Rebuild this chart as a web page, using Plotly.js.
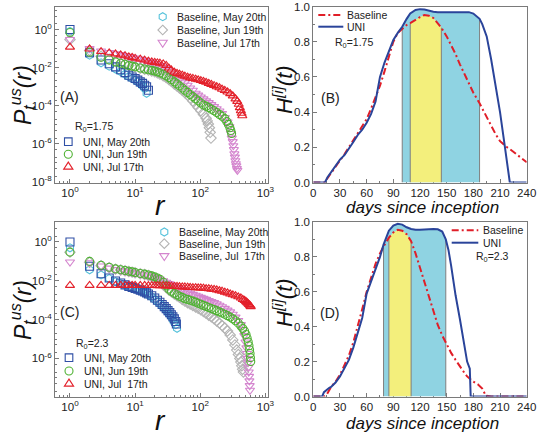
<!DOCTYPE html>
<html><head><meta charset="utf-8">
<script src="https://cdn.plot.ly/plotly-3.0.1.min.js"></script>
<style>html,body{margin:0;padding:0;background:#fff}#chart{width:539px;height:434px}</style>
</head><body><div id="chart"></div>
<script>
// ================= DATA =================
// Panel A (R0 = 1.75): rank r and probability P
const rA_uniMay = [1,2,3,4,5,6,7,8,9,10,11,12,13,14,15,16];
const pA_uniMay = [1.0,0.06,0.025,0.016,0.011,0.0078,0.0055,0.004,0.0032,0.0027,0.0022,0.0018,0.0015,0.0012,0.001,0.00065];
const rA_baseMay = [1,2,3,4,5,6,7,8,9,10,11,12,13,14,15];
const pA_baseMay = [0.8,0.045,0.018,0.012,0.0085,0.0062,0.0045,0.0034,0.0027,0.0022,0.0018,0.0014,0.0011,0.0008,0.00045];
const rA_uniJun = [1,2,3,4,5,6,7,8,9,10,12,14,16,18,20,22,24,27,30,33,36,40,44,48,53,58,64,70,77,85,93,102,112,123,135,148,163,179,197,216,238,255,270,285,295,303];
const pA_uniJun = [0.7,0.065,0.035,0.025,0.02,0.017,0.015,0.013,0.012,0.011,0.0095,0.0085,0.0078,0.0072,0.0066,0.006,0.0053,0.0045,0.0037,0.003,0.0024,0.0018,0.0014,0.0011,0.00085,0.00065,0.0005,0.00039,0.0003,0.00023,0.00018,0.00014,0.00011,0.000095,0.00008,0.000065,0.000055,0.000044,0.000035,0.000028,0.000021,0.000015,0.0000105,0.000007,0.000005,0.0000035];
const rA_baseJun = [1,2,3,4,5,6,7,8,9,10,12,14,16,18,20,22,24,27,30,33,36,40,44,48,53,58,64,70,77,85,93,102,112,123,128,133,138,142,146];
const pA_baseJun = [0.3,0.08,0.04,0.028,0.021,0.017,0.015,0.013,0.012,0.011,0.0093,0.0082,0.0074,0.0067,0.006,0.0053,0.0046,0.0037,0.003,0.0024,0.0019,0.0014,0.0011,0.00085,0.00065,0.0005,0.00036,0.00026,0.00018,0.00012,0.00008,0.000055,0.000035,0.000022,0.000016,0.000011,0.000007,0.000004,0.000002];
const rA_uniJul = [1,2,3,4,5,6,7,8,9,10,12,14,16,18,20,22,24,27,30,33,36,40,44,48,53,58,64,70,77,85,93,102,112,123,135,148,163,179,197,216,238,262,288,316,348,370,390,405,420,432,442];
const pA_uniJul = [0.12,0.095,0.07,0.06,0.053,0.047,0.042,0.037,0.034,0.031,0.028,0.025,0.022,0.02,0.019,0.018,0.017,0.0155,0.013,0.0095,0.0075,0.0058,0.005,0.0045,0.004,0.0036,0.0032,0.0029,0.0027,0.0025,0.0023,0.0021,0.0019,0.0017,0.0015,0.0013,0.00115,0.001,0.00088,0.00074,0.00063,0.00053,0.00043,0.00033,0.00023,0.00017,0.00012,0.00008,0.000055,0.00004,0.00003];
const rA_baseJul = [1,2,3,4,5,6,7,8,9,10,12,14,16,18,20,22,24,27,30,33,36,40,44,48,53,58,64,70,77,85,93,102,112,123,135,148,163,179,197,216,238,262,280,295,305,315,322,328,334,340,346,352,358,365,372];
const pA_baseJul = [0.3,0.1,0.075,0.062,0.054,0.048,0.043,0.039,0.035,0.032,0.028,0.024,0.021,0.019,0.017,0.015,0.013,0.011,0.009,0.0068,0.0052,0.004,0.0031,0.0025,0.002,0.0016,0.0012,0.00085,0.00065,0.00045,0.00036,0.00029,0.00023,0.00018,0.000145,0.000115,0.00009,0.00007,0.000053,0.000039,0.000024,0.000014,0.000008,0.0000035,0.000002,0.0000013,0.0000008,0.0000005,0.0000003,0.0000002,0.00000013,0.00000009,0.00000007,0.00000005,0.00000004];

// Panel C (R0 = 2.3)
const rC_uniMay = [1,2,3,4,5,6,7,8,9,10,11,12,13,14,15,16,18,20,22,24,26,28,30,32,34,36,38,40,42,43];
const pC_uniMay = [1.0,0.056,0.023,0.014,0.0098,0.0077,0.0062,0.0052,0.0046,0.0041,0.0037,0.0033,0.003,0.0027,0.0024,0.0021,0.0017,0.0013,0.001,0.00078,0.0006,0.00047,0.00037,0.00029,0.00023,0.00018,0.00014,0.00011,0.00008,0.00006];
const rC_baseMay = [1,2,3,4,5,6,7,8,9,10,11,12,13,14,15,16,18,20,22,24,26,28,30,32,34,36,38,40,42,44];
const pC_baseMay = [0.5,0.037,0.02,0.013,0.009,0.0072,0.0058,0.0049,0.0043,0.0038,0.0034,0.003,0.0027,0.0024,0.0021,0.0019,0.0015,0.0011,0.00085,0.00065,0.0005,0.00039,0.0003,0.00023,0.00018,0.00014,0.0001,0.000075,0.000055,0.000036];
const rC_uniJun = [1,2,3,4,5,6,7,8,9,10,12,14,16,18,20,22,24,27,30,33,36,40,44,48,53,58,64,70,77,85,93,102,112,123,135,148,163,179,197,216,238,262,288,316,348,383,420,450,480,505,525,545,560,572,582,590,596];
const pC_uniJun = [0.3,0.1,0.063,0.05,0.041,0.037,0.034,0.031,0.029,0.027,0.024,0.022,0.02,0.018,0.016,0.014,0.012,0.0085,0.0055,0.0038,0.0029,0.0023,0.0019,0.0016,0.0014,0.0012,0.0011,0.001,0.0009,0.0008,0.0007,0.00062,0.00054,0.00048,0.00042,0.00037,0.00033,0.00029,0.00025,0.00022,0.00019,0.00016,0.000135,0.00011,0.000088,0.000066,0.000047,0.000035,0.000025,0.000017,0.000011,0.000007,0.0000045,0.0000028,0.0000018,0.0000011,0.0000007];
const rC_baseJun = [1,2,3,4,5,6,7,8,9,10,12,14,16,18,20,22,24,27,30,33,36,40,44,48,53,58,64,70,77,85,93,102,112,123,135,148,163,179,197,216,238,262,288,316,340,363,385,405,420,434,447,460];
const pC_baseJun = [0.3,0.09,0.06,0.047,0.04,0.036,0.033,0.03,0.028,0.026,0.023,0.021,0.019,0.016,0.013,0.011,0.0088,0.0062,0.0045,0.0034,0.0027,0.0021,0.0017,0.0014,0.0011,0.0009,0.00075,0.00063,0.00053,0.00045,0.00038,0.00032,0.00026,0.00021,0.00017,0.00014,0.00011,0.000085,0.000066,0.00005,0.000037,0.000026,0.000016,0.000009,0.000005,0.0000027,0.0000016,0.000001,0.00000065,0.00000042,0.00000028,0.0000002];
const rC_uniJul = [1,2,3,4,5,6,7,8,9,10,12,14,16,18,20,22,24,27,30,33,36,40,44,48,53,58,64,70,77,85,93,102,112,123,135,148,163,179,197,216,238,262,288,316,348,383,420,450,480,505,525,545,560,575,588,596];
const pC_uniJul = [0.0058,0.0058,0.0058,0.0058,0.0058,0.0058,0.0058,0.0058,0.0058,0.0058,0.0058,0.0058,0.0057,0.0057,0.0057,0.0056,0.0056,0.0056,0.0055,0.0054,0.0053,0.0052,0.0051,0.005,0.0049,0.0048,0.0047,0.0046,0.0045,0.0044,0.0043,0.0043,0.0042,0.004,0.0039,0.0037,0.0036,0.0034,0.0031,0.0029,0.0026,0.0024,0.0021,0.0019,0.0017,0.0015,0.0013,0.0011,0.00098,0.00085,0.00075,0.00066,0.0006,0.00055,0.0005,0.00047];
const rC_baseJul = [1,2,3,4,5,6,7,8,9,10,12,14,16,18,20,22,24,27,30,33,36,40,44,48,53,58,64,70,77,85,93,102,112,123,135,148,163,179,197,216,238,262,288,316,348,383,420,450,475,495,510,522,532,540,548,555,562,568,574,580];
const pC_baseJul = [0.093,0.085,0.058,0.045,0.038,0.034,0.031,0.029,0.027,0.025,0.022,0.02,0.018,0.016,0.015,0.013,0.012,0.01,0.0085,0.0072,0.0062,0.0052,0.0045,0.0039,0.0034,0.003,0.0026,0.0023,0.002,0.0018,0.0016,0.0014,0.00125,0.0011,0.00096,0.00085,0.00075,0.00065,0.00055,0.00046,0.00038,0.00031,0.00025,0.00019,0.000135,0.00009,0.000055,0.00003,0.000015,0.000007,0.0000035,0.0000018,0.000001,0.0000006,0.00000035,0.0000002,0.00000012,0.00000007,0.00000004,0.000000023];

// Panel B (R0 = 1.75): days since inception t and H(t)
const tB = [0,10,13,16,20,25,30,35,40,45,50,55,60,65,70,75,80,85,90,95,100,105,109,115,120,125,130,135,140,144,150,155,160,165,170,175,180,187,190,195,200,205,210,215,218,221,225,230,240];
const hB_base = [0,0,0,0.025,0.055,0.09,0.125,0.16,0.2,0.24,0.28,0.32,0.36,0.42,0.48,0.55,0.63,0.72,0.8,0.85,0.875,0.895,0.905,0.925,0.94,0.952,0.948,0.935,0.905,0.88,0.83,0.78,0.73,0.67,0.615,0.56,0.51,0.45,0.42,0.37,0.32,0.275,0.235,0.21,0.2,0.19,0.175,0.155,0.115];
const hB_uni = [0,0,0,0.03,0.06,0.1,0.13,0.155,0.19,0.23,0.27,0.3,0.34,0.39,0.46,0.6,0.68,0.75,0.81,0.85,0.885,0.93,0.96,0.98,0.985,0.983,0.975,0.97,0.968,0.968,0.97,0.97,0.97,0.97,0.97,0.968,0.96,0.93,0.9,0.83,0.7,0.56,0.4,0.22,0.12,0,0,0,0];
const winB_uni = [100,187];
const winB_base = [109,144];

// Panel D (R0 = 2.3)
const tD = [0,10,12,15,18,20,25,30,35,40,45,50,55,60,65,70,75,79,85,90,95,100,105,110,115,120,125,130,135,140,145,149,152,155,160,165,170,173,176,177,180,185,190,194,200,210,220,240];
const hD_base = [0,0,0,0.01,0.04,0.055,0.085,0.125,0.18,0.235,0.31,0.4,0.5,0.6,0.68,0.76,0.82,0.86,0.91,0.94,0.955,0.95,0.93,0.89,0.82,0.74,0.65,0.57,0.49,0.41,0.35,0.31,0.28,0.25,0.21,0.17,0.135,0.115,0.1,0.095,0.085,0.07,0.045,0.005,0,0,0,0];
const hD_uni = [0,0,0.025,0.04,0.05,0.055,0.08,0.115,0.16,0.21,0.28,0.36,0.45,0.59,0.66,0.72,0.8,0.87,0.95,0.98,0.99,0.985,0.97,0.96,0.955,0.955,0.958,0.96,0.96,0.958,0.945,0.9,0.84,0.75,0.58,0.44,0.3,0.2,0.16,0,0,0,0,0,0,0,0,0];
const winD_uni = [79,149];
const winD_base = [85,110];

// Tick labels
const logTickVals = [1,10,100,1000];
const logTickText = ['10<sup>0</sup>','10<sup>1</sup>','10<sup>2</sup>','10<sup>3</sup>'];
const pTickVals = [1,1e-2,1e-4,1e-6,1e-8];
const pTickText = ['10<sup>0</sup>','10<sup>-2</sup>','10<sup>-4</sup>','10<sup>-6</sup>','10<sup>-8</sup>'];

// ================= STYLE / LAYOUT =================
const W = 539, H = 434;
const FX = v => v / W, FY = v => 1 - v / H;
const FONT = 'Liberation Sans, Arial, sans-serif';
const AX = '#7a7a7a';
const C = {uniMay:'#2f4fa5', baseMay:'#56c2db', uniJun:'#4fb233', baseJun:'#b4b4b4', uniJul:'#e3202a', baseJul:'#d485ce',
           red:'#e01e28', blue:'#2a449a', cyan:'#8fd3e2', yellow:'#f3ef7c', edge:'#7f7f7f'};
const DASHDOT = '7px,3px,2px,3px';

function mk(r, p, sym, col, xa, ya) {
  return {type:'scatter', mode:'markers', x:r, y:p, xaxis:xa, yaxis:ya, hoverinfo:'skip', showlegend:false,
          marker:{symbol:sym + '-open', size:8, color:col, line:{width:1.1}}};
}
function ln(t, h, col, dash, xa, ya) {
  return {type:'scatter', mode:'lines', x:t, y:h, xaxis:xa, yaxis:ya, hoverinfo:'skip', showlegend:false,
          line:{color:col, width:2, dash:dash}};
}
function shade(t, h, win, fill, xa, ya) {
  const xs = [], ys = [];
  t.forEach((v, i) => { if (v >= win[0] && v <= win[1]) { xs.push(v); ys.push(h[i]); } });
  return {type:'scatter', mode:'lines', x:xs, y:ys, xaxis:xa, yaxis:ya, fill:'tozeroy', fillcolor:fill,
          line:{width:0}, hoverinfo:'skip', showlegend:false};
}
function edges(t, h, win, xa, ya) {
  return win.map(w => ({type:'scatter', mode:'lines', x:[w, w], y:[0, h[t.indexOf(w)]], xaxis:xa, yaxis:ya,
          line:{color:C.edge, width:1}, hoverinfo:'skip', showlegend:false}));
}

const traces = [
  // Panel A
  mk(rA_baseMay, pA_baseMay, 'hexagon', C.baseMay, 'x', 'y'),
  mk(rA_baseJun, pA_baseJun, 'diamond', C.baseJun, 'x', 'y'),
  mk(rA_baseJul, pA_baseJul, 'triangle-down', C.baseJul, 'x', 'y'),
  mk(rA_uniMay, pA_uniMay, 'square', C.uniMay, 'x', 'y'),
  mk(rA_uniJun, pA_uniJun, 'circle', C.uniJun, 'x', 'y'),
  mk(rA_uniJul, pA_uniJul, 'triangle-up', C.uniJul, 'x', 'y'),
  // Panel B
  shade(tB, hB_uni, winB_uni, C.cyan, 'x2', 'y2'),
  shade(tB, hB_base, winB_base, C.yellow, 'x2', 'y2'),
  ...edges(tB, hB_uni, winB_uni, 'x2', 'y2'),
  ...edges(tB, hB_base, winB_base, 'x2', 'y2'),
  ln(tB, hB_base, C.red, DASHDOT, 'x2', 'y2'),
  ln(tB, hB_uni, C.blue, 'solid', 'x2', 'y2'),
  // Panel C
  mk(rC_baseMay, pC_baseMay, 'hexagon', C.baseMay, 'x3', 'y3'),
  mk(rC_baseJun, pC_baseJun, 'diamond', C.baseJun, 'x3', 'y3'),
  mk(rC_baseJul, pC_baseJul, 'triangle-down', C.baseJul, 'x3', 'y3'),
  mk(rC_uniMay, pC_uniMay, 'square', C.uniMay, 'x3', 'y3'),
  mk(rC_uniJun, pC_uniJun, 'circle', C.uniJun, 'x3', 'y3'),
  mk(rC_uniJul, pC_uniJul, 'triangle-up', C.uniJul, 'x3', 'y3'),
  // Panel D
  shade(tD, hD_uni, winD_uni, C.cyan, 'x4', 'y4'),
  shade(tD, hD_base, winD_base, C.yellow, 'x4', 'y4'),
  ...edges(tD, hD_uni, winD_uni, 'x4', 'y4'),
  ...edges(tD, hD_base, winD_base, 'x4', 'y4'),
  ln(tD, hD_base, C.red, DASHDOT, 'x4', 'y4'),
  ln(tD, hD_uni, C.blue, 'solid', 'x4', 'y4')
];

const tickfont = {family:FONT, size:11.5, color:'#222'};
const baseAx = {showline:true, mirror:true, linecolor:AX, linewidth:1, ticks:'inside', ticklen:4, tickcolor:AX,
                showgrid:false, zeroline:false, tickfont:tickfont, layer:'below traces', fixedrange:true};
function logX(dom, anchor) {
  return Object.assign({}, baseAx, {domain:dom, anchor:anchor, type:'log', range:[-0.23, 3.04],
    tickmode:'array', tickvals:logTickVals, ticktext:logTickText,
    minor:{ticks:'inside', ticklen:2, tickcolor:AX, dtick:'D1'}});
}
function logY(dom, anchor, rng) {
  return Object.assign({}, baseAx, {domain:dom, anchor:anchor, type:'log', range:rng,
    tickmode:'array', tickvals:pTickVals, ticktext:pTickText,
    minor:{ticks:'inside', ticklen:2, tickcolor:AX, dtick:'D2'}});
}
function linX(dom, anchor) {
  return Object.assign({}, baseAx, {domain:dom, anchor:anchor, range:[0, 240], tick0:0, dtick:30,
    minor:{ticks:'inside', ticklen:2, tickcolor:AX, dtick:15}});
}
function linY(dom, anchor) {
  return Object.assign({}, baseAx, {domain:dom, anchor:anchor, range:[0, 1], tick0:0, dtick:0.2, tickformat:'.1f',
    minor:{ticks:'inside', ticklen:2, tickcolor:AX, dtick:0.1}});
}
const xL = [FX(55), FX(268)], xR = [FX(313.3), FX(526.7)];
const yT = [FY(182.5), FY(6.5)], yB = [FY(396.5), FY(222)];

// ---- legend keys (decoration) ----
const SYM = {
  'square': 'M-3.8,-3.8H3.8V3.8H-3.8Z',
  'triangle-up': 'M-4.6,-2.4L4.6,-2.4L0,4.6Z',
  'triangle-down': 'M-4.6,2.4L4.6,2.4L0,-4.6Z',
  'diamond': 'M0,4.8L4.8,0L0,-4.8L-4.8,0Z',
  'hexagon': 'M3.5,-2V2L0,4L-3.5,2V-2L0,-4Z'
};
function key(sym, col, cx, cy) {
  const s = {xref:'paper', yref:'paper', xsizemode:'pixel', ysizemode:'pixel', xanchor:FX(cx), yanchor:FY(cy),
             line:{color:col, width:1.1}, fillcolor:'rgba(0,0,0,0)', layer:'above'};
  if (sym === 'circle') return Object.assign(s, {type:'circle', x0:-4, x1:4, y0:-4, y1:4});
  return Object.assign(s, {type:'path', path:SYM[sym]});
}
function lineKey(col, dash, x0, x1, cy) {
  return {type:'line', xref:'paper', yref:'paper', x0:FX(x0), x1:FX(x1), y0:FY(cy), y1:FY(cy),
          line:{color:col, width:2, dash:dash}, layer:'above'};
}
const shapes = [
  key('hexagon', C.baseMay, 162.7, 16.7), key('diamond', C.baseJun, 162.7, 30), key('triangle-down', C.baseJul, 162.7, 42.7),
  key('square', C.uniMay, 68.3, 141.7), key('circle', C.uniJun, 68.3, 154.3), key('triangle-up', C.uniJul, 68.3, 166.7),
  key('hexagon', C.baseMay, 164.3, 232), key('diamond', C.baseJun, 164.3, 243.7), key('triangle-down', C.baseJul, 164.3, 256),
  key('square', C.uniMay, 69, 357.7), key('circle', C.uniJun, 69, 371), key('triangle-up', C.uniJul, 69, 383.7),
  lineKey(C.red, DASHDOT, 318.3, 343.3, 15), lineKey(C.blue, 'solid', 318.3, 343.3, 26.7),
  lineKey(C.red, DASHDOT, 451.7, 478.3, 230.3), lineKey(C.blue, 'solid', 451.7, 478.3, 242.7)
];

const legFont = {family:FONT, size:10.5, color:'#222'};
function txt(s, x, y, opts) {
  return Object.assign({text:s, xref:'paper', yref:'paper', x:FX(x), y:FY(y), xanchor:'left', yanchor:'middle',
                        showarrow:false, font:legFont}, opts || {});
}
const bigI = sz => ({family:FONT, size:sz, color:'#111', style:'italic'});
const annotations = [
  txt('Baseline, May 20th', 175, 16.7), txt('Baseline, Jun 19th', 175, 30), txt('Baseline, Jul 17th', 175, 42.7),
  txt('R<sub>0</sub>=1.75', 72.7, 126.7),
  txt('UNI, May 20th', 81, 141.7), txt('UNI, Jun 19th', 81, 154.3), txt('UNI, Jul 17th', 81, 166.7),
  txt('Baseline, May 20th', 176.7, 232), txt('Baseline, Jun 19th', 176.7, 243.7), txt('Baseline, Jul \u00a017th', 176.7, 256),
  txt('R<sub>0</sub>=2.3', 74, 344.3),
  txt('UNI, May 20th', 81.7, 357.7), txt('UNI, Jun 19th', 81.7, 371), txt('UNI, Jul \u00a017th', 81.7, 383.7),
  txt('Baseline', 345, 15), txt('UNI', 345, 26.7), txt('R<sub>0</sub>=1.75', 333.3, 42.7),
  txt('Baseline', 480.7, 230.3), txt('UNI', 480.7, 242.7), txt('R<sub>0</sub>=2.3', 474, 257),
  txt('(A)', 58, 97, {font:{family:FONT, size:14, color:'#222'}}),
  txt('(B)', 318.5, 98, {font:{family:FONT, size:14, color:'#222'}}),
  txt('(C)', 57.5, 312, {font:{family:FONT, size:14, color:'#222'}}),
  txt('(D)', 318, 313, {font:{family:FONT, size:14, color:'#222'}}),
  // axis titles
  txt('P<sub>t</sub><sup>us</sup>(r)', 22, 95, {xanchor:'center', textangle:-90, font:bigI(23)}),
  txt('P<sub>t</sub><sup>us</sup>(r)', 22, 310, {xanchor:'center', textangle:-90, font:bigI(23)}),
  txt('H<sup>[i]</sup>(t)', 283, 90, {xanchor:'center', textangle:-90, font:bigI(22)}),
  txt('H<sup>[i]</sup>(t)', 283, 303, {xanchor:'center', textangle:-90, font:bigI(22)}),
  txt('r', 160, 205, {xanchor:'center', font:bigI(28)}),
  txt('r', 160, 420, {xanchor:'center', font:bigI(28)}),
  txt('days since inception', 422, 208, {xanchor:'center', font:bigI(17)}),
  txt('days since inception', 422, 423, {xanchor:'center', font:bigI(17)})
];

const layout = {
  width:W, height:H, margin:{l:0, r:0, t:0, b:0}, paper_bgcolor:'#fff', plot_bgcolor:'#fff',
  showlegend:false, font:{family:FONT},
  xaxis: logX(xL, 'y'),  yaxis: logY(yT, 'x', [-8.03, 1.21]),
  xaxis2: linX(xR, 'y2'), yaxis2: linY(yT, 'x2'),
  xaxis3: logX(xL, 'y3'), yaxis3: logY(yB, 'x3', [-7.96, 1.03]),
  xaxis4: linX(xR, 'y4'), yaxis4: linY(yB, 'x4'),
  shapes: shapes, annotations: annotations
};
Plotly.newPlot('chart', traces, layout, {staticPlot:true, displayModeBar:false});
</script></body></html>
